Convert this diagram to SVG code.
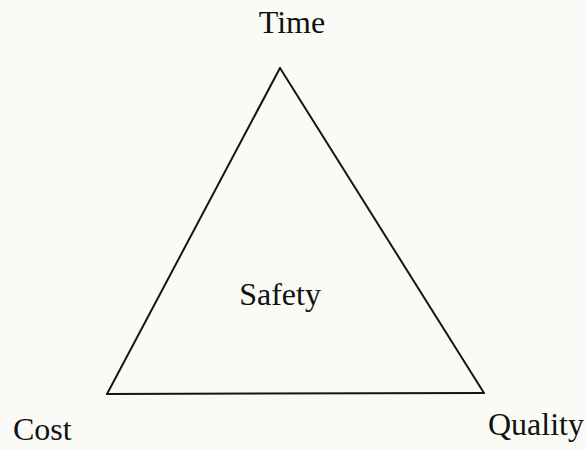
<svg xmlns="http://www.w3.org/2000/svg" width="585" height="450" viewBox="0 0 585 450">
<style>
.lbl{font-family:"Liberation Serif","Times New Roman",serif;font-size:32px;fill:#111}
.edge{stroke:#151515;stroke-width:2;fill:none;stroke-linecap:round}
</style>
<rect width="585" height="450" fill="#fafaf7"/>
<g id="connectors">
<line class="edge" x1="280" y1="68" x2="107" y2="394"/>
<line class="edge" x1="280" y1="68" x2="484" y2="393"/>
<line class="edge" x1="107" y1="394" x2="484" y2="393"/>
</g>
<g id="time"><text class="lbl" x="292" y="33" text-anchor="middle">Time</text></g>
<g id="safety"><text class="lbl" x="280" y="305" text-anchor="middle">Safety</text></g>
<g id="cost"><text class="lbl" x="13" y="440">Cost</text></g>
<g id="quality"><text class="lbl" x="488" y="435">Quality</text></g>
</svg>
